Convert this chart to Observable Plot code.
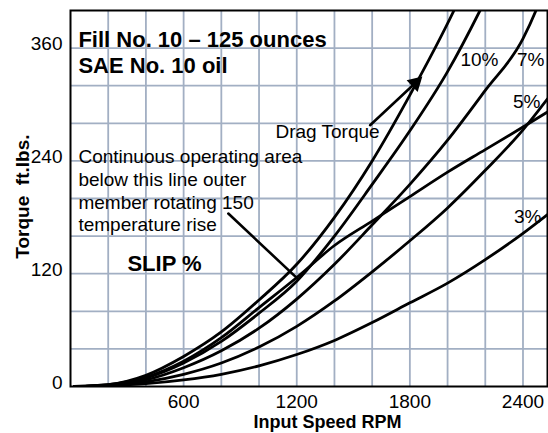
<!DOCTYPE html>
<html><head><meta charset="utf-8">
<script src="https://cdn.jsdelivr.net/npm/d3@7"></script>
<script src="https://cdn.jsdelivr.net/npm/@observablehq/plot@0.6"></script>
<style>body{margin:0;background:#fff}svg{display:block}</style>
</head><body><div id="chart"></div>
<script>
// Data (Input speed RPM vs torque ft.lbs.)
const rpmDrag = [20,200,400,600,800,1000,1200,1400,1600,1800,2034,2100];
const torqueDrag = [0,2,12,32,58,92,130,180,240,310,400,428];
const rpm10 = [20,200,400,600,800,1000,1200,1400,1600,1800,2000,2172,2250];
const torque10 = [0,1,9,25,48,78,112,160,215,272,335,400,432];
const rpm7 = [20,200,400,600,800,1000,1200,1400,1600,1800,2000,2200,2400,2469,2530];
const torque7 = [0,1,7,20,38,62,93,130,172,215,262,315,370,400,432];
const rpm5 = [20,200,400,600,800,1000,1200,1400,1600,1800,2000,2200,2400,2530];
const torque5 = [0,1,5,13,25,42,64,91,122,155,190,230,273,306];
const rpm3 = [20,200,400,600,800,1000,1200,1400,1600,1800,2000,2200,2400,2530];
const torque3 = [0,1,3,7,13,22,34,49,68,89,110,135,163,183];
const rpmCont = [20,200,400,600,800,1000,1200,1400,1600,1800,2000,2200,2400,2530];
const torqueCont = [0,2,10,27,52,84,116,150,176,202,228,252,276,292];

const xTicks = [600,1200,1800,2400];
const yTicks = [0,120,240,360];
const xGrid = [200,400,600,800,1000,1200,1400,1600,1800,2000,2200,2400];
const yGrid = [40,80,120,160,200,240,280,320,360];

const curves = [
  {name:"Drag Torque", rpm:rpmDrag, torque:torqueDrag},
  {name:"10%", rpm:rpm10, torque:torque10},
  {name:"7%", rpm:rpm7, torque:torque7},
  {name:"5%", rpm:rpm5, torque:torque5},
  {name:"3%", rpm:rpm3, torque:torque3},
  {name:"Continuous", rpm:rpmCont, torque:torqueCont}
];
const lineData = curves.flatMap(c => c.rpm.map((r,i) => ({series:c.name, rpm:r, torque:c.torque[i]})));

// annotation labels (data coordinates)
const boldLabels = [
  {text:"Fill No. 10 \u2013 125 ounces", rpm:42, torque:361},
  {text:"SAE No. 10 oil", rpm:42, torque:333},
  {text:"SLIP %", rpm:302, torque:123}
];
const plainLabels = [
  {text:"Drag Torque", rpm:1087, torque:264},
  {text:"Continuous operating area", rpm:42, torque:238},
  {text:"below this line outer", rpm:42, torque:213},
  {text:"member rotating 150", rpm:42, torque:189},
  {text:"temperature rise", rpm:42, torque:165},
  {text:"10%", rpm:2068, torque:341},
  {text:"7%", rpm:2368, torque:341},
  {text:"5%", rpm:2347, torque:296},
  {text:"3%", rpm:2352, torque:174}
];
const arrows = [
  {x1:1589, y1:278, x2:1846, y2:326, head:0},
  {x1:837, y1:184, x2:1203, y2:115, head:8}
];
const arrowHeads = [{x:1830, y:323, angle:47}];

const font = "'Liberation Sans', Arial, Helvetica, sans-serif";
const chart = Plot.plot({
  width:548, height:433,
  marginLeft:70, marginTop:10, marginRight:1, marginBottom:47,
  style:{fontFamily:font, background:"#fff"},
  x:{domain:[0,2530]},
  y:{domain:[0,400]},
  marks:[
    Plot.ruleX(xGrid, {stroke:"#a2afc3", strokeWidth:1.8}),
    Plot.ruleY(yGrid, {stroke:"#a2afc3", strokeWidth:1.8}),
    Plot.line(lineData, {x:"rpm", y:"torque", z:"series", stroke:"black", strokeWidth:2.8, curve:"monotone-x", clip:true}),
    Plot.arrow(arrows, {x1:"x1", y1:"y1", x2:"x2", y2:"y2", headLength:d=>d.head, stroke:"black", strokeWidth:2.6, bend:0}),
    Plot.dot(arrowHeads, {x:"x", y:"y", rotate:"angle", symbol:"triangle", r:6, fill:"black", stroke:"none"}),
    Plot.frame({stroke:"black", strokeWidth:2}),
    Plot.axisX({ticks:xTicks, tickSize:0, tickPadding:8, fontSize:19, tickFormat:d=>String(d), label:null}),
    Plot.axisY({ticks:yTicks, tickSize:0, tickPadding:8, fontSize:19, dy:-4, tickFormat:d=>String(d), label:null}),
    Plot.text(boldLabels, {x:"rpm", y:"torque", text:"text", textAnchor:"start", fontSize:22, fontWeight:"bold", fill:"black", lineAnchor:"bottom"}),
    Plot.text(plainLabels, {x:"rpm", y:"torque", text:"text", textAnchor:"start", fontSize:19, fill:"black", lineAnchor:"bottom"}),
    Plot.text(["Input Speed RPM"], {x:1363, frameAnchor:"bottom", text:d=>d, dy:36, fontSize:18, fontWeight:"bold", fill:"black", lineAnchor:"middle", textAnchor:"middle"}),
    Plot.text(["Torque  ft.lbs."], {y:202, frameAnchor:"left", text:d=>d, dx:-48, rotate:-90, fontSize:19, fontWeight:"bold", fill:"black", textAnchor:"middle", lineAnchor:"middle"})
  ]
});
document.getElementById("chart").append(chart);
</script>
</body></html>
